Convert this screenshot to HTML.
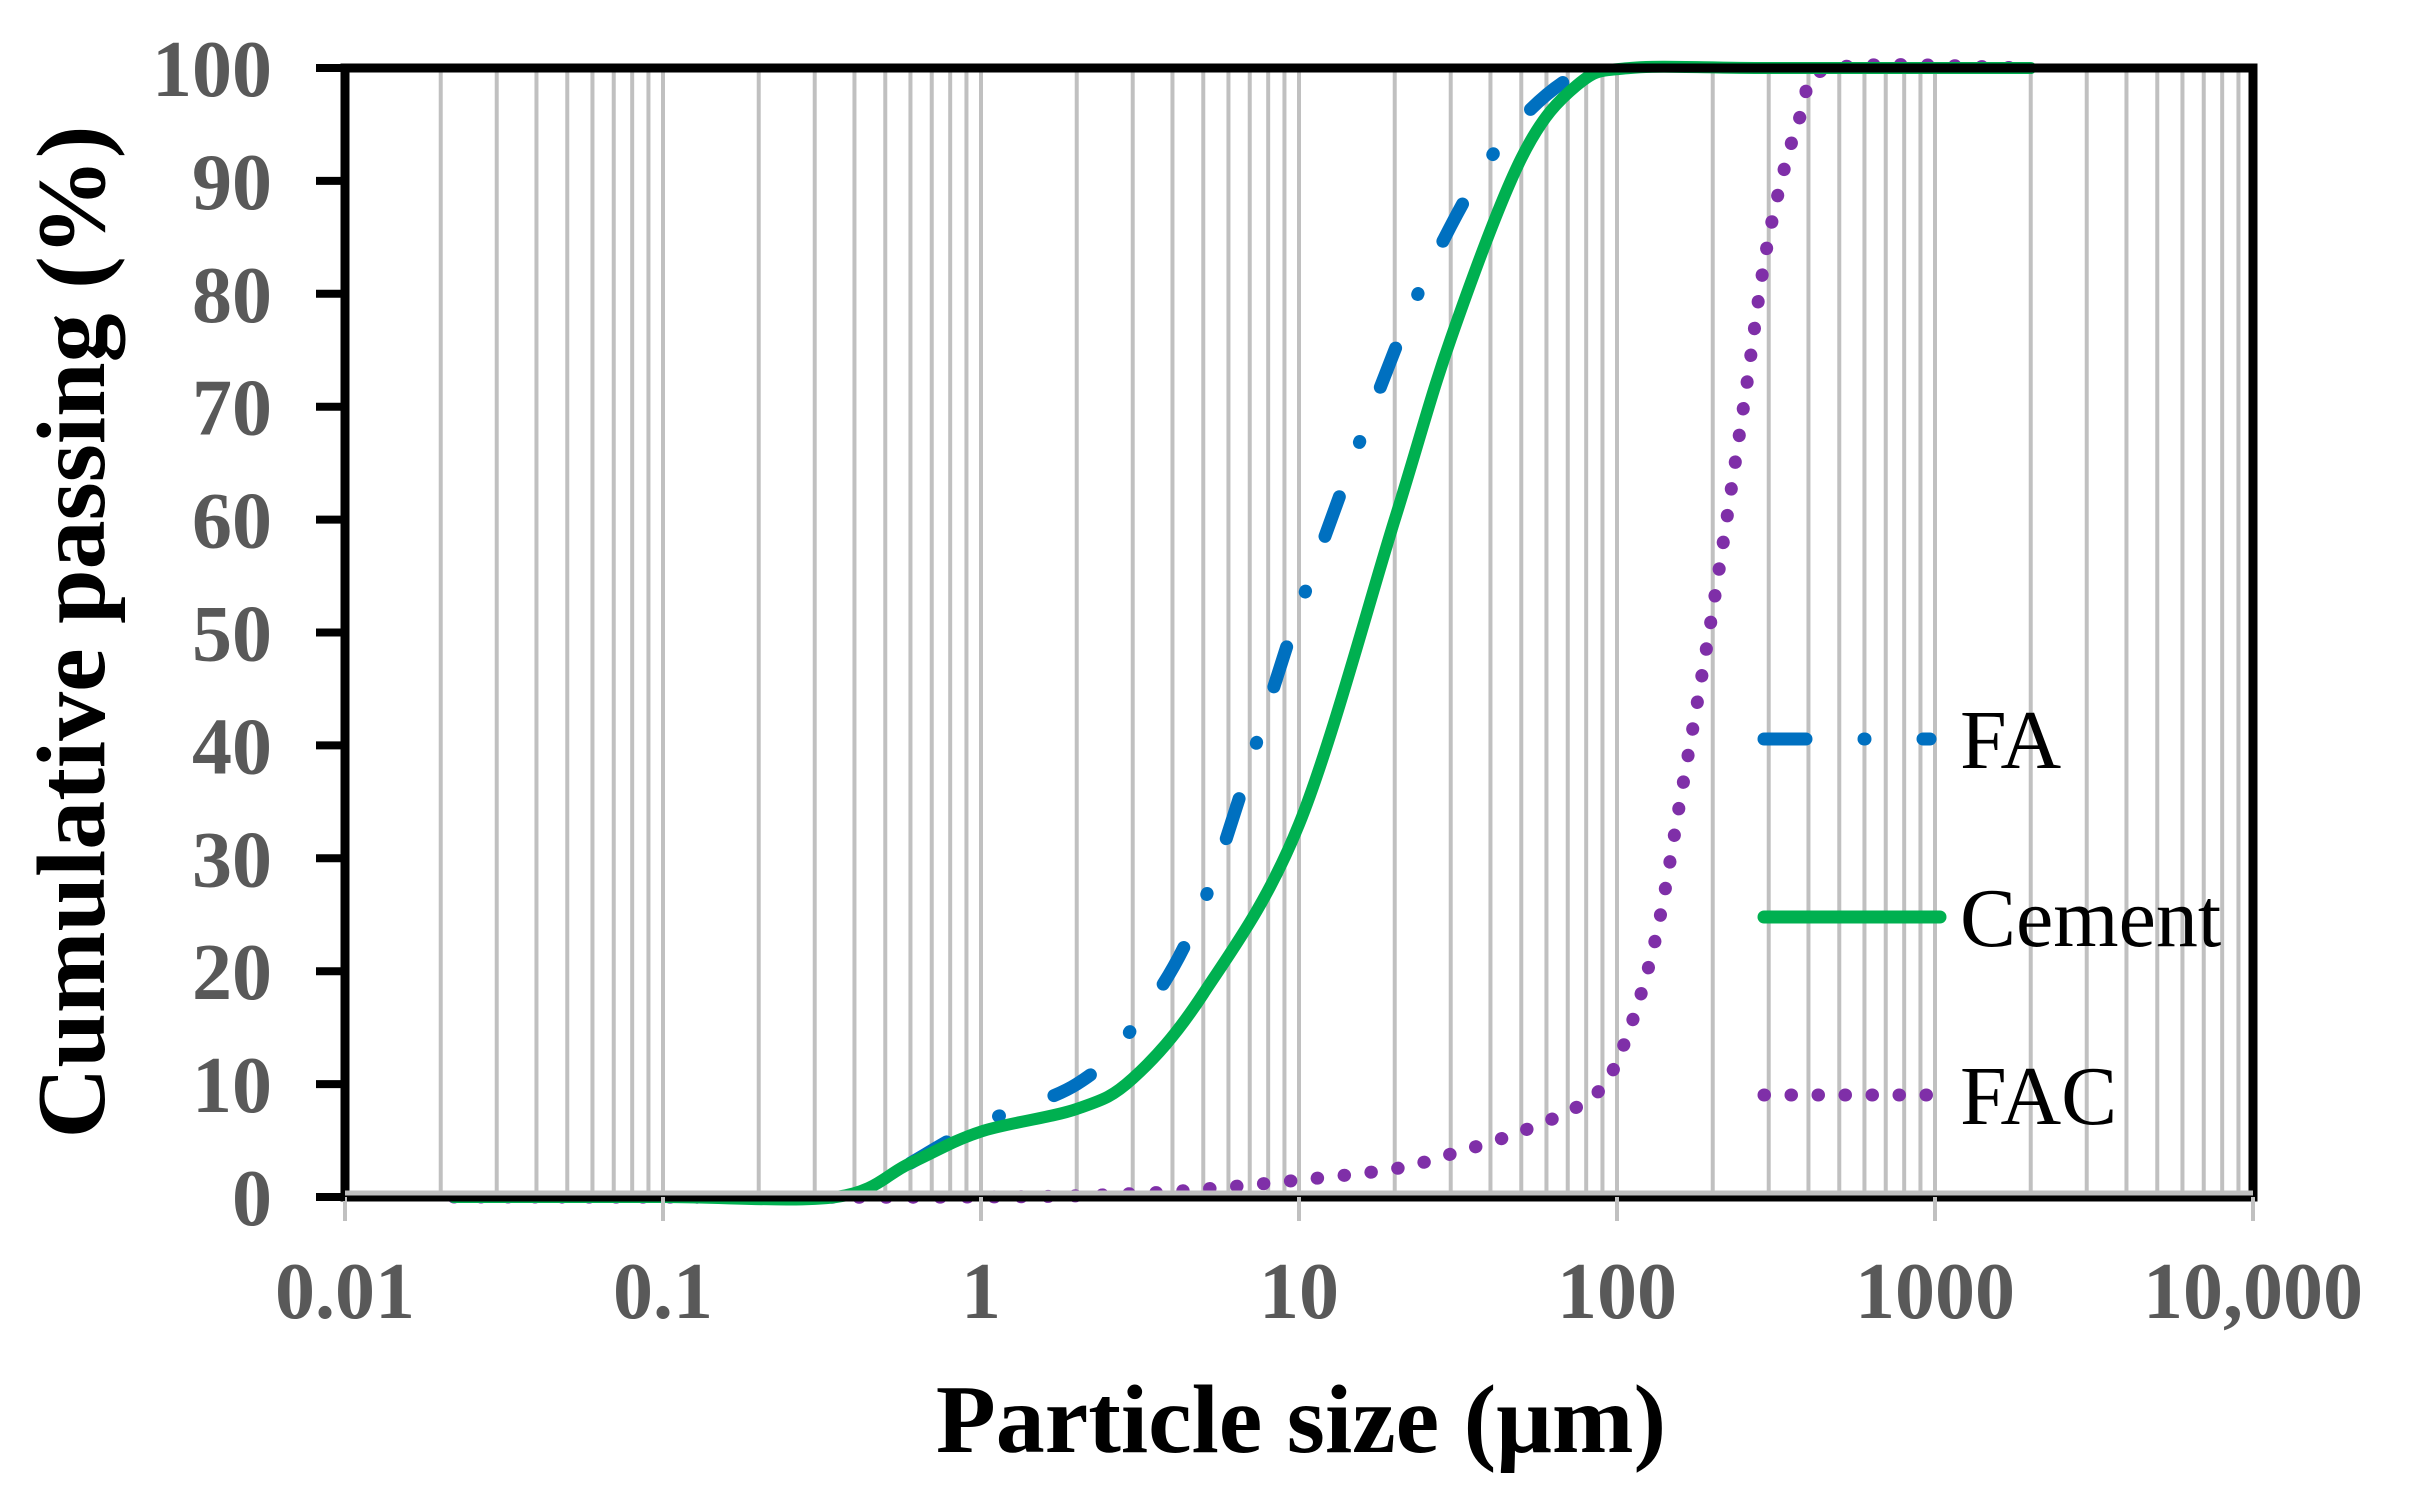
<!DOCTYPE html>
<html><head><meta charset="utf-8"><style>
html,body{margin:0;padding:0;background:#fff;}
svg{display:block;}
</style></head><body>
<svg id="s" width="2415" height="1502" xmlns="http://www.w3.org/2000/svg">
<g id="grid"></g>
<g id="curves"></g>
<rect x="345" y="68" width="1908" height="1129" fill="none" stroke="#000" stroke-width="9"/>
<line x1="345" y1="1193" x2="2253" y2="1193" stroke="#bfbfbf" stroke-width="5"/>
<g id="ticks"></g>
<g font-family="Liberation Serif, serif" font-weight="bold" fill="#595959" font-size="80" id="labels"></g>
<text x="1301" y="1452" font-family="Liberation Serif, serif" font-weight="bold" font-size="98" text-anchor="middle">Particle size (μm)</text>
<text transform="translate(104,632) rotate(-90)" font-family="Liberation Serif, serif" font-weight="bold" font-size="98" text-anchor="middle">Cumulative passing (%)</text>
<g id="legend">
<line x1="1764" y1="739" x2="1930" y2="739" stroke="#0070c0" stroke-width="13" stroke-linecap="round" stroke-dasharray="42 58 1 58"/>
<line x1="1764" y1="917" x2="1940" y2="917" stroke="#00b050" stroke-width="13" stroke-linecap="round"/>
<line x1="1764" y1="1095" x2="1930" y2="1095" stroke="#7f2fa8" stroke-width="13" stroke-linecap="round" stroke-dasharray="0.5 26.5"/>
<g font-family="Liberation Serif, serif" font-size="84" fill="#000">
<text x="1960" y="768">FA</text>
<text x="1960" y="946">Cement</text>
<text x="1960" y="1124">FAC</text>
</g>
</g>
</svg>
<script>
var X0=345,DEC=318,Y0=1197,YS=11.29;
function px(v){return X0+(Math.log10(v)+2)*DEC;}
function py(p){return Y0-p*YS;}
var ns="http://www.w3.org/2000/svg";
function el(t,a,parent){var e=document.createElementNS(ns,t);for(var k in a)e.setAttribute(k,a[k]);document.getElementById(parent).appendChild(e);return e;}
for(var d=-2;d<4;d++){for(var m=1;m<10;m++){var v=m*Math.pow(10,d);if(m==1&&d==-2)continue;var x=px(v);
el('line',{x1:x,y1:68,x2:x,y2:1197,stroke:'#c0c0c0','stroke-width':4},'grid');}}
for(var d=-2;d<=4;d++){var x=px(Math.pow(10,d));el('line',{x1:x,y1:1197,x2:x,y2:1221,stroke:'#c0c0c0','stroke-width':4},'ticks');}
for(var i=0;i<=10;i++){var y=py(i*10);el('line',{x1:316,y1:y,x2:345,y2:y,stroke:'#000','stroke-width':8},'ticks');
var t=el('text',{x:272,y:y+28,'text-anchor':'end'},'labels');t.textContent=String(i*10);}
var xl=[['0.01',0.01],['0.1',0.1],['1',1],['10',10],['100',100],['1000',1000],['10,000',10000]];
xl.forEach(function(a){var t=el('text',{x:px(a[1]),y:1318,'text-anchor':'middle'},'labels');t.textContent=a[0];});
function path(pts){var P=pts.map(function(p){return[px(p[0]),py(p[1])];});var d='M'+P[0][0]+','+P[0][1];
for(var i=0;i<P.length-1;i++){var p0=P[i-1]||P[i],p1=P[i],p2=P[i+1],p3=P[i+2]||P[i+1];
var c1=[p1[0]+(p2[0]-p0[0])/6,p1[1]+(p2[1]-p0[1])/6],c2=[p2[0]-(p3[0]-p1[0])/6,p2[1]-(p3[1]-p1[1])/6];
d+=' C'+c1+' '+c2+' '+p2;}return d;}
var cem=[[0.022,0],[0.1,0],[0.35,0],[0.6,3],[1,5.8],[2,7.8],[3,10.5],[5,18],[10,33],[20,60],[30,76],[50,92],[75,98.5],[110,100],[300,100],[2000,100]];
var fa=[[0.6,3],[1,6.5],[2,10],[3,15],[5,26],[10,52],[20,75],[30,86],[45,94],[70,99],[100,100]];
var fac=[[0.022,0],[1,0],[3,0.3],[5,0.7],[10,1.5],[20,2.5],[30,3.8],[50,5.8],[80,8.5],[100,12],[130,22],[160,36],[200,52],[250,70],[300,85],[380,96],[480,100],[2000,100]];
el('path',{d:path(fac),fill:'none',stroke:'#7f2fa8','stroke-width':13,'stroke-linecap':'round','stroke-dasharray':'0.5 26.5'},'curves');
el('path',{d:path(fa),fill:'none',stroke:'#0070c0','stroke-width':13,'stroke-linecap':'round','stroke-dasharray':'42 58 1 58'},'curves');
el('path',{d:path(cem),fill:'none',stroke:'#00b050','stroke-width':12,'stroke-linecap':'round','stroke-linejoin':'round'},'curves');
</script>
</body></html>
